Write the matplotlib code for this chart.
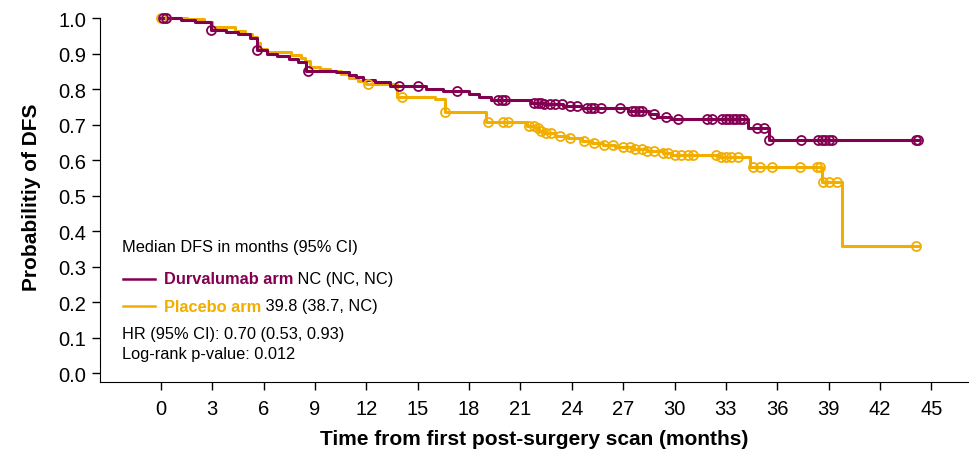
import numpy as np
import matplotlib
matplotlib.use("Agg")
import matplotlib.pyplot as plt
from matplotlib.lines import Line2D

plt.rcParams['font.family'] = ['Liberation Sans', 'DejaVu Sans']

# Kaplan-Meier step points (time in months, survival after step)
durva_t = [0, 1.2, 2.0, 2.9, 3.8, 4.5, 5.2, 5.6, 6.2, 6.8, 7.5, 8.0, 8.5, 9.5, 10.2,
           11.0, 11.4, 11.8, 12.5, 13.4, 15.5, 16.5, 18.0, 18.6, 19.3, 21.6, 22.4,
           23.5, 24.6, 27.3, 28.5, 29.0, 29.8, 34.3, 35.5]
durva_s = [1.0, 0.995, 0.99, 0.966, 0.962, 0.955, 0.945, 0.91, 0.90, 0.893, 0.885,
           0.875, 0.852, 0.85, 0.848, 0.84, 0.835, 0.826, 0.82, 0.81, 0.80, 0.795,
           0.785, 0.777, 0.768, 0.762, 0.757, 0.752, 0.746, 0.738, 0.73, 0.722,
           0.716, 0.69, 0.656]
durva_cens = [0.1, 0.3, 2.9, 5.6, 8.6, 13.9, 15.0, 17.3, 19.7, 19.9, 20.1, 21.8, 22.0,
              22.2, 22.4, 22.7, 23.0, 23.4, 23.9, 24.3, 24.9, 25.1, 25.3, 25.7, 26.8,
              27.5, 27.7, 27.9, 28.1, 28.8, 29.5, 30.2, 31.9, 32.2, 32.8, 33.0, 33.2,
              33.4, 33.6, 33.8, 34.0, 34.8, 35.2, 35.5, 37.4, 38.4, 38.6, 38.8, 39.0,
              39.2, 44.1, 44.2]

plac_t = [0, 1.5, 2.5, 3.0, 4.3, 4.9, 5.3, 5.6, 5.8, 6.2, 7.6, 8.2, 8.4, 8.7, 9.3,
          9.9, 10.5, 11.0, 11.5, 12.0, 13.8, 16.0, 16.6, 19.0, 21.4, 21.9, 22.1,
          22.4, 23.0, 23.8, 24.6, 25.2, 25.8, 26.5, 27.6, 28.4, 29.3, 29.8, 32.6,
          34.4, 38.6, 39.8]
plac_s = [1.0, 0.997, 0.99, 0.975, 0.965, 0.955, 0.946, 0.93, 0.913, 0.904, 0.897,
          0.888, 0.878, 0.862, 0.856, 0.85, 0.842, 0.832, 0.822, 0.814, 0.778, 0.772,
          0.735, 0.707, 0.697, 0.69, 0.682, 0.675, 0.668, 0.662, 0.655, 0.648, 0.643,
          0.637, 0.632, 0.627, 0.62, 0.615, 0.61, 0.58, 0.538, 0.358]
plac_cens = [0.0, 0.3, 12.1, 14.1, 16.6, 19.1, 20.0, 20.3, 21.5, 21.8, 22.0, 22.2,
             22.5, 22.8, 23.3, 23.9, 24.7, 25.3, 25.9, 26.4, 27.0, 27.4, 27.7, 28.1,
             28.4, 28.8, 29.3, 29.6, 30.0, 30.4, 30.8, 31.1, 32.4, 32.7, 33.0, 33.3,
             33.7, 34.6, 35.0, 35.7, 37.3, 38.3, 38.5, 38.7, 39.0, 39.5, 44.1]

xticks = list(range(0, 46, 3))
yticks = [0.0, 0.1, 0.2, 0.3, 0.4, 0.5, 0.6, 0.7, 0.8, 0.9, 1.0]

PURPLE = '#830051'
GOLD = '#F2AE00'

W, H = 969, 452
fig = plt.figure(figsize=(W / 100, H / 100), dpi=100)
ax = fig.add_axes([100 / W, 69 / H, 869 / W, 371 / H])


def km(ax, t, s, cens, end, color):
    tt = np.append(t, end)
    ss = np.append(s, s[-1])
    ax.step(tt, ss, where='post', color=color, lw=2.2, zorder=3, clip_on=False)
    idx = np.searchsorted(t, cens, side='right') - 1
    cy = np.asarray(s)[idx]
    ax.plot(cens, cy, 'o', mfc='none', mec=color, ms=6.5, mew=1.3, zorder=4,
            clip_on=False)


km(ax, plac_t, plac_s, plac_cens, 44.2, GOLD)
km(ax, durva_t, durva_s, durva_cens, 44.2, PURPLE)

ax.set_xlim(-3.56, 47.2)
ax.set_ylim(-0.025, 1.02)
ax.set_xticks(xticks)
ax.set_yticks(yticks)
ax.set_yticklabels([f'{v:.1f}' for v in yticks])
ax.spines['top'].set_visible(False)
ax.spines['right'].set_visible(False)
ax.spines['left'].set_bounds(-0.025, 1.0)
ax.tick_params(direction='out', length=6, width=1, labelsize=14.5, pad=4)
ax.tick_params(axis='x', pad=6)
ax.set_xlabel('Time from first post-surgery scan (months)', fontsize=15,
              fontweight='bold', labelpad=8)
ax.set_ylabel('Probabilitiy of DFS', fontsize=15, fontweight='bold', labelpad=12)

# annotation block
def fx(px):
    return px / W


def fy(py):
    return 1 - py / H


fs = 11.8
fig.text(fx(122), fy(248), 'Median DFS in months (95% CI)', fontsize=fs, va='center')
for py, col, name, rest in [(280, PURPLE, 'Durvalumab arm', ' NC (NC, NC)'),
                            (307, GOLD, 'Placebo arm', ' 39.8 (38.7, NC)')]:
    fig.add_artist(Line2D([fx(123), fx(155)], [fy(py), fy(py)], color=col, lw=1.8))
    t1 = fig.text(fx(164), fy(py), name, fontsize=fs, fontweight='bold', color=col,
                  va='center')
    ax.annotate(rest, xy=(1, 0.5), xycoords=t1, va='center', ha='left',
                fontsize=fs, color='black', annotation_clip=False)
fig.text(fx(122), fy(335), 'HR (95% CI): 0.70 (0.53, 0.93)', fontsize=fs, va='center')
fig.text(fx(122), fy(355), 'Log-rank p-value: 0.012', fontsize=fs, va='center')

fig.savefig('out.png', dpi=100)
